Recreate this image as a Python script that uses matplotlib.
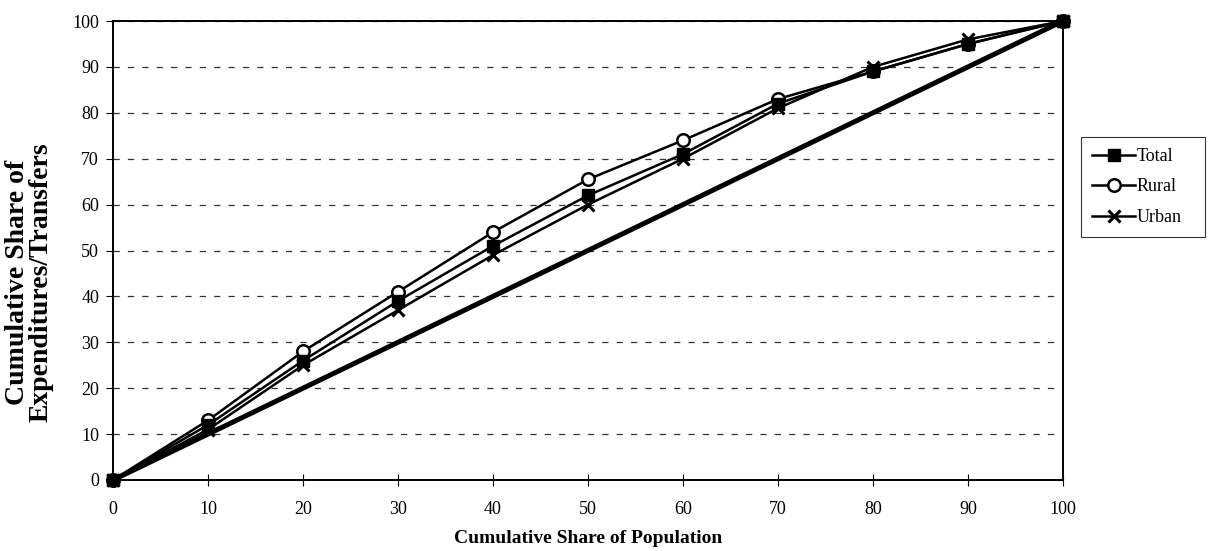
import matplotlib
matplotlib.use("Agg")
import matplotlib.pyplot as plt

population = [0, 10, 20, 30, 40, 50, 60, 70, 80, 90, 100]
total = [0, 12, 26, 39, 51, 62, 71, 82, 89, 95, 100]
rural = [0, 13, 28, 41, 54, 65.5, 74, 83, 89, 95, 100]
urban = [0, 11, 25, 37, 49, 60, 70, 81, 90, 96, 100]
equality = [0, 10, 20, 30, 40, 50, 60, 70, 80, 90, 100]

plt.rcParams['font.family'] = ['Liberation Serif', 'DejaVu Serif']

fig = plt.figure(figsize=(12.1, 5.51), dpi=100)
ax = fig.add_axes([113/1210, 1 - 480/551, (1063-113)/1210, (480-21)/551])

ax.plot(population, equality, color='black', lw=3.6, zorder=2)
ax.plot(population, rural, color='black', lw=1.8, marker='o', ms=9,
        mfc='white', mec='black', mew=1.8, label='Rural', zorder=3, clip_on=False)
ax.plot(population, urban, color='black', lw=1.8, marker='x', ms=9,
        mew=2.2, label='Urban', zorder=3, clip_on=False)
ax.plot(population, total, color='black', lw=1.8, marker='s', ms=9,
        label='Total', zorder=4, clip_on=False)

ax.set_xlim(0, 100)
ax.set_ylim(0, 100)
ax.set_xticks(range(0, 101, 10))
ax.set_yticks(range(0, 101, 10))
ax.tick_params(axis='both', labelsize=13, colors='black')
ax.tick_params(axis='x', direction='inout', length=8, pad=11)
ax.tick_params(axis='y', direction='out', length=5, pad=5)

ax.yaxis.grid(True, linestyle=(0, (5, 6.5)), color='#333333', lw=0.9)
for s in ax.spines.values():
    s.set_color('black')
    s.set_linewidth(1.4)

ax.set_xlabel('Cumulative Share of Population', fontsize=14, fontweight='bold', labelpad=9)
ax.set_ylabel('Cumulative Share of\nExpenditures/Transfers', fontsize=20,
              fontweight='bold', linespacing=0.92)
ax.yaxis.set_label_coords(-0.063, 0.43)

handles, labels = ax.get_legend_handles_labels()
order = [labels.index('Total'), labels.index('Rural'), labels.index('Urban')]
x0 = 1081/1210
y1 = 1 - 137/551
y0 = 1 - 234/551
leg = fig.legend([handles[i] for i in order], [labels[i] for i in order],
                 loc='upper left', bbox_to_anchor=(x0, y0, 1205/1210 - x0, y1 - y0),
                 mode='expand',
                 fontsize=13, frameon=True, fancybox=False, edgecolor='black',
                 borderaxespad=0, handlelength=2.4, labelspacing=0.75,
                 handletextpad=0.1, borderpad=0.6)
leg.get_frame().set_linewidth(0.8)

fig.savefig('out.png', dpi=100)
